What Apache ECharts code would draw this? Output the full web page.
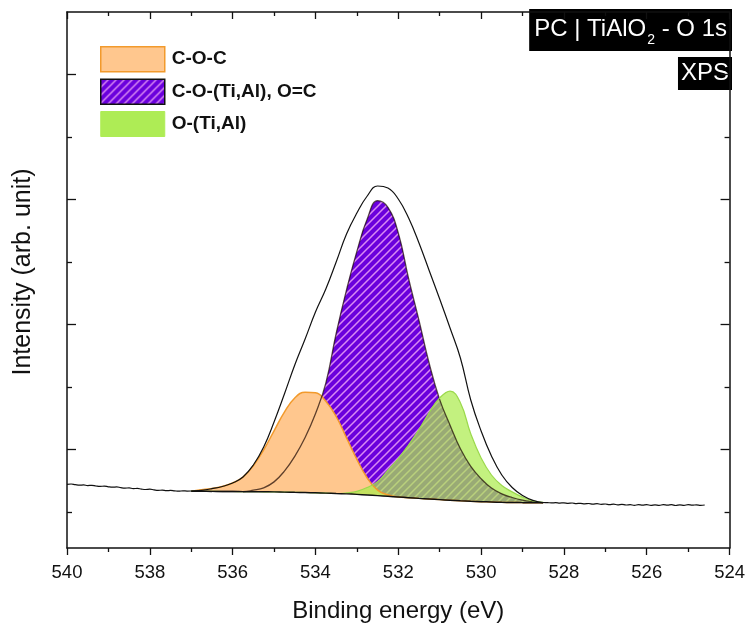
<!DOCTYPE html>
<html>
<head>
<meta charset="utf-8">
<script src="https://cdn.jsdelivr.net/npm/echarts@6/dist/echarts.min.js"></script>
<style>
  html, body { margin: 0; padding: 0; background: #fff; }
  #chart { width: 748px; height: 628px; }
</style>
</head>
<body>
<div id="chart"></div>
<script>
// O 1s spectrum, binding energy in eV, intensity in arbitrary counts

// measured spectrum, high binding-energy wing
const energyLeft = [540.0, 539.9, 539.8, 539.7, 539.6, 539.5, 539.4, 539.3, 539.2, 539.1,
  539.0, 538.9, 538.8, 538.7, 538.6, 538.5, 538.4, 538.3, 538.2, 538.1,
  538.0, 537.9, 537.8, 537.7, 537.6, 537.5, 537.4, 537.3, 537.2, 537.1];
const countsLeft = [443, 448, 437, 429, 434, 422, 427, 416, 410, 414,
  403, 397, 402, 389, 382, 386, 374, 378, 366, 360,
  365, 354, 346, 350, 341, 346, 338, 333, 339, 334];

// fit window
const energyFit = [537.0, 536.75, 536.5, 536.25, 536.0, 535.75, 535.5, 535.25, 535.0,
  534.75, 534.5, 534.25, 534.0, 533.75, 533.5, 533.25, 533.0, 532.75, 532.5,
  532.25, 532.0, 531.75, 531.5, 531.25, 531.0, 530.75, 530.5, 530.25, 530.0,
  529.75, 529.5, 529.25, 529.0, 528.75, 528.5];
// measured spectrum across the peak
const countsPeak = [336, 347, 373, 408, 464, 560, 752, 1040, 1440,
  1888, 2352, 2768, 3200, 3568, 4000, 4448, 4784, 5056, 5216,
  5184, 5008, 4704, 4304, 3856, 3408, 2944, 2464, 1792, 1296,
  896, 592, 392, 264, 187, 152];
// Shirley-type background
const background = [333, 331, 330, 328, 328, 326, 325, 323, 322,
  318, 315, 312, 307, 302, 296, 290, 282, 272, 262,
  251, 240, 229, 218, 208, 198, 189, 179, 171, 165,
  160, 155, 152, 150, 149, 147];
// fitted components, counts above background
const peakCOC = [0, 24, 48, 80, 136, 232, 416, 672, 976,
  1280, 1510, 1604, 1600, 1470, 1232, 896, 560, 272, 88,
  24, 0, 0, 0, 0, 0, 0, 0, 0, 0,
  0, 0, 0, 0, 0, 0];
const peakCOTiAl = [0, 0, 0, 0, 0, 0, 24, 64, 160,
  336, 576, 880, 1264, 1760, 2560, 3264, 3888, 4416, 4720,
  4624, 4224, 3504, 2848, 2160, 1600, 1200, 832, 560, 368,
  224, 136, 80, 40, 16, 0];
const peakOTiAl = [0, 0, 0, 0, 0, 0, 0, 0, 0,
  0, 0, 0, 0, 0, 0, 16, 48, 120, 224,
  416, 613, 846, 1101, 1387, 1627, 1744, 1568, 1080, 699,
  432, 269, 170, 88, 29, 8];

// measured spectrum, low binding-energy wing
const energyRight = [528.4, 528.3, 528.2, 528.1, 528.0, 527.9, 527.8, 527.7, 527.6, 527.5,
  527.4, 527.3, 527.2, 527.1, 527.0, 526.9, 526.8, 526.7, 526.6, 526.5,
  526.4, 526.3, 526.2, 526.1, 526.0, 525.9, 525.8, 525.7, 525.6, 525.5,
  525.4, 525.3, 525.2, 525.1, 525.0, 524.9, 524.8, 524.7, 524.6];
const countsRight = [150, 146, 149, 142, 147, 139, 144, 134, 139, 131,
  136, 126, 133, 123, 128, 118, 125, 115, 123, 112,
  118, 107, 117, 109, 118, 106, 115, 107, 118, 109,
  117, 104, 114, 107, 117, 109, 115, 107, 112];

const componentNames = ['C-O-C', 'C-O-(Ti,Al), O=C', 'O-(Ti,Al)'];
const energyMin = 524, energyMax = 540, energyStep = 2;
const intensityMin = -576, intensityMax = 8000;
const intensityMajorTicks = [1000, 3000, 5000, 7000];
const intensityMinorTicks = [0, 2000, 4000, 6000];

const FONT = '"Liberation Sans", Arial, Helvetica, sans-serif';
const INK = '#111';
const SMOOTH = 0.45;

function hatch(bg, stripe, size, width) {
  const c = document.createElement('canvas');
  c.width = c.height = size;
  const g = c.getContext('2d');
  g.fillStyle = bg;
  g.fillRect(0, 0, size, size);
  g.strokeStyle = stripe;
  g.lineWidth = width;
  g.beginPath();
  for (const o of [-size, 0, size]) {
    g.moveTo(o - 1, size + 1);
    g.lineTo(o + size + 1, -1);
  }
  g.stroke();
  return { image: c, repeat: 'repeat' };
}

const violetHatch = hatch('#6A00DC', '#D98BF2', 8, 1.5);
const orangeFill = '#FFC78E';
const orangeEdge = '#F29A2C';
const greenFill = 'rgba(172, 236, 78, 0.72)';
const greenEdge = '#9BD94C';

const pairs = (xs, ys) => xs.map((x, i) => [x, ys[i]]);
// component curves sit on top of the background
const onBackground = (peak) => pairs(energyFit, peak.map((v, i) => v + background[i]));
const spectrumE = energyLeft.concat(energyFit, energyRight);
const spectrumI = countsLeft.concat(countsPeak, countsRight);
// lower edge of everything drawn: measured wings outside the fit window, background inside it
const floorI = countsLeft.concat(background, countsRight);

const chart = echarts.init(document.getElementById('chart'), null, { renderer: 'canvas' });

const frameLine = { onZero: false, lineStyle: { color: INK, width: 1.5 } };
const tickStyle = { color: INK, width: 1.3 };
const yCommon = {
  type: 'value', min: intensityMin, max: intensityMax, z: 10,
  axisLabel: { show: false }, splitLine: { show: false }
};

chart.setOption({
  animation: false,
  backgroundColor: '#fff',
  grid: { left: 67, right: 15, top: 12, bottom: 80 },
  title: [
    {
      text: '{a|PC | TiAlO}{b|2}{a| - O 1s}',
      right: 16, top: 13,
      backgroundColor: '#000',
      padding: [2, 5, 4, 5],
      textStyle: {
        fontWeight: 'normal',
        rich: {
          a: { color: '#fff', fontSize: 24, fontWeight: 'normal', fontFamily: FONT, lineHeight: 28 },
          b: { color: '#fff', fontSize: 14, fontWeight: 'normal', fontFamily: FONT, lineHeight: 14, padding: [22, 0, 0, 1] }
        }
      }
    },
    {
      text: 'XPS',
      right: 16, top: 57,
      backgroundColor: '#000',
      padding: [4, 3, 5, 3],
      textStyle: { color: '#fff', fontSize: 24, fontWeight: 'normal', fontFamily: FONT, lineHeight: 24 }
    }
  ],
  legend: {
    orient: 'vertical', left: 100, top: 46, padding: 0,
    itemWidth: 64, itemHeight: 25, itemGap: 6,
    selectedMode: false,
    textStyle: { fontSize: 19, fontWeight: 'bold', color: INK, fontFamily: FONT, padding: [0, 0, 0, 2] },
    data: [
      { name: componentNames[0], icon: 'rect', itemStyle: { color: orangeFill, borderColor: orangeEdge, borderWidth: 1.5 } },
      { name: componentNames[1], icon: 'rect', itemStyle: { color: violetHatch, borderColor: '#111', borderWidth: 1.5 } },
      { name: componentNames[2], icon: 'rect', itemStyle: { color: '#AEEC55', borderColor: '#AEEC55', borderWidth: 1 } }
    ]
  },
  xAxis: [
    {
      type: 'value', min: energyMin, max: energyMax, interval: energyStep, inverse: true,
      position: 'bottom', z: 10,
      name: 'Binding energy (eV)', nameLocation: 'middle', nameGap: 51,
      nameTextStyle: { fontSize: 24, color: INK, fontFamily: FONT },
      axisLine: frameLine,
      axisTick: { inside: false, length: 7, lineStyle: tickStyle },
      minorTick: { show: true, splitNumber: 2, length: 4, lineStyle: tickStyle },
      axisLabel: { margin: 15, fontSize: 18.5, color: INK, fontFamily: FONT },
      splitLine: { show: false }
    },
    {
      type: 'value', min: energyMin, max: energyMax, interval: energyStep, inverse: true,
      position: 'top', z: 10,
      axisLine: frameLine,
      axisTick: { inside: true, length: 7, lineStyle: tickStyle },
      minorTick: { show: true, splitNumber: 2, length: 4, lineStyle: tickStyle },
      axisLabel: { show: false },
      splitLine: { show: false }
    }
  ],
  yAxis: [
    Object.assign({}, yCommon, {
      position: 'left',
      name: 'Intensity (arb. unit)', nameLocation: 'middle', nameGap: 31,
      nameTextStyle: { fontSize: 25, color: INK, fontFamily: FONT, padding: [0, 0, 0, 16] },
      axisLine: Object.assign({ show: true }, frameLine),
      axisTick: { show: true, inside: true, length: 9, customValues: intensityMajorTicks, lineStyle: tickStyle }
    }),
    Object.assign({}, yCommon, {
      position: 'left',
      axisLine: { show: false, onZero: false },
      axisTick: { show: true, inside: true, length: 5, customValues: intensityMinorTicks, lineStyle: tickStyle }
    }),
    Object.assign({}, yCommon, {
      position: 'right',
      axisLine: Object.assign({ show: true }, frameLine),
      axisTick: { show: true, inside: true, length: 9, customValues: intensityMajorTicks, lineStyle: tickStyle }
    }),
    Object.assign({}, yCommon, {
      position: 'right',
      axisLine: { show: false, onZero: false },
      axisTick: { show: true, inside: true, length: 5, customValues: intensityMinorTicks, lineStyle: tickStyle }
    })
  ],
  series: [
    // C-O-(Ti,Al), O=C: hatched fill
    {
      name: componentNames[1], type: 'line', smooth: SMOOTH, symbol: 'none',
      data: onBackground(peakCOTiAl),
      lineStyle: { width: 0 },
      itemStyle: { color: '#6A00DC' },
      areaStyle: { color: violetHatch, opacity: 1, origin: 'start' }
    },
    // C-O-C
    {
      name: componentNames[0], type: 'line', smooth: SMOOTH, symbol: 'none',
      data: onBackground(peakCOC),
      lineStyle: { color: orangeEdge, width: 1.5 },
      itemStyle: { color: orangeEdge },
      areaStyle: { color: orangeFill, opacity: 1, origin: 'start' }
    },
    // outline of the C-O-(Ti,Al) component, seen through the C-O-C fill
    {
      type: 'line', smooth: SMOOTH, symbol: 'none',
      data: onBackground(peakCOTiAl),
      lineStyle: { color: 'rgba(25, 5, 0, 0.7)', width: 1.3 },
      silent: true
    },
    // O-(Ti,Al)
    {
      name: componentNames[2], type: 'line', smooth: SMOOTH, symbol: 'none',
      data: onBackground(peakOTiAl),
      lineStyle: { color: greenEdge, width: 1.2 },
      itemStyle: { color: '#AEEC55' },
      areaStyle: { color: greenFill, opacity: 1, origin: 'start' }
    },
    // nothing is shown below the background and the measured wings
    {
      type: 'line', smooth: SMOOTH, symbol: 'none',
      data: pairs(spectrumE, floorI),
      lineStyle: { width: 0 },
      areaStyle: { color: '#fff', opacity: 1, origin: 'start' },
      silent: true
    },
    // background
    {
      type: 'line', smooth: SMOOTH, symbol: 'none',
      data: pairs(energyFit, background),
      lineStyle: { color: INK, width: 1.5 }, silent: true
    },
    // measured spectrum
    {
      type: 'line', smooth: SMOOTH, symbol: 'none',
      data: pairs(spectrumE, spectrumI),
      lineStyle: { color: INK, width: 1.2 }, silent: true
    }
  ]
});
</script>
</body>
</html>
